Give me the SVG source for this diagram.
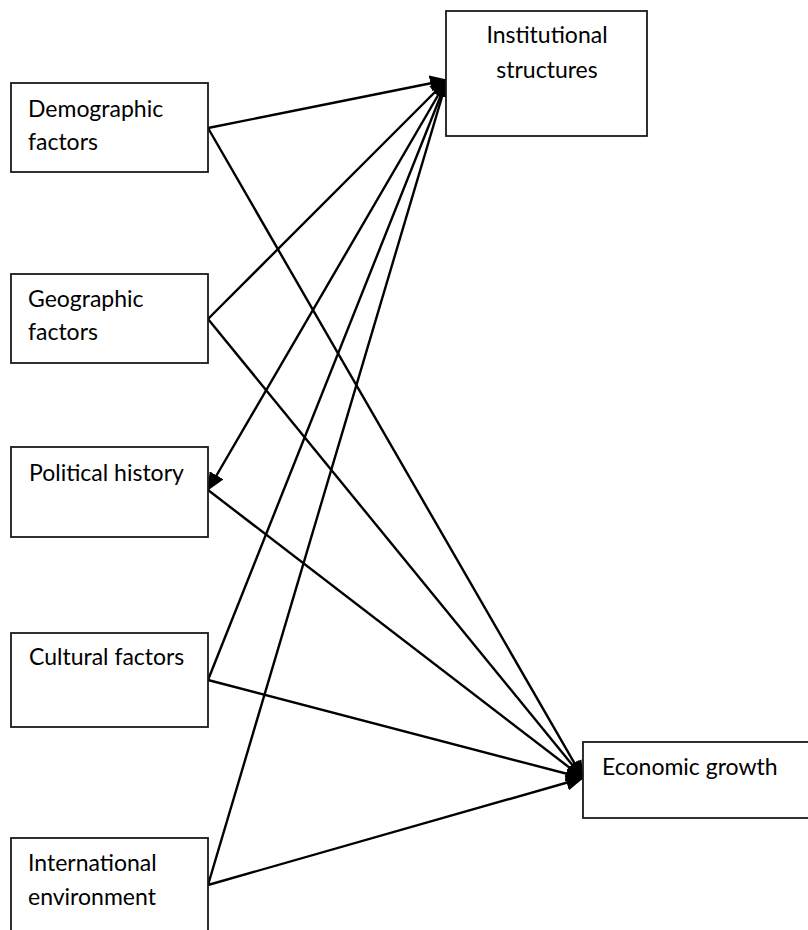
<svg xmlns="http://www.w3.org/2000/svg" width="808" height="930" viewBox="0 0 808 930">
  <style>
    .box { fill: #ffffff; stroke: #1a1a1a; stroke-width: 1.8; }
    .lbl { font-family: Lato, "Open Sans", "Liberation Sans", sans-serif; font-size: 23px; fill: #000000; }
    .edge { stroke: #000000; stroke-width: 2.4; fill: none; }
  </style>
  <defs>
    <marker id="arrow" markerUnits="userSpaceOnUse" markerWidth="18" markerHeight="16" refX="17" refY="8" orient="auto">
      <path d="M0,0 L18,8 L0,16 Z" fill="#000000"/>
    </marker>
  </defs>
  <rect width="808" height="930" fill="#ffffff"/>

  <g id="connectors">
    <line class="edge" x1="208" y1="128" x2="447" y2="80" marker-end="url(#arrow)"/>
    <line class="edge" x1="208" y1="128" x2="583" y2="778" marker-end="url(#arrow)"/>
    <line class="edge" x1="208" y1="319" x2="447" y2="80" marker-end="url(#arrow)"/>
    <line class="edge" x1="208" y1="319" x2="583" y2="778" marker-end="url(#arrow)"/>
    <line class="edge" x1="447" y1="80" x2="208" y2="490" marker-end="url(#arrow)"/>
    <line class="edge" x1="208" y1="490" x2="583" y2="778" marker-end="url(#arrow)"/>
    <line class="edge" x1="208" y1="680" x2="447" y2="80" marker-end="url(#arrow)"/>
    <line class="edge" x1="208" y1="680" x2="583" y2="778" marker-end="url(#arrow)"/>
    <line class="edge" x1="208" y1="885" x2="447" y2="80" marker-end="url(#arrow)"/>
    <line class="edge" x1="208" y1="885" x2="583" y2="778" marker-end="url(#arrow)"/>
  </g>

  <g id="institutional">
    <rect class="box" x="446" y="11" width="201" height="125"/>
    <text class="lbl" x="547" y="43" text-anchor="middle">Institutional</text>
    <text class="lbl" x="547" y="78" text-anchor="middle">structures</text>
  </g>

  <g id="demographic">
    <rect class="box" x="11" y="83" width="197" height="89"/>
    <text class="lbl" x="28" y="117">Demographic</text>
    <text class="lbl" x="28" y="150">factors</text>
  </g>

  <g id="geographic">
    <rect class="box" x="11" y="274" width="197" height="89"/>
    <text class="lbl" x="28" y="307">Geographic</text>
    <text class="lbl" x="28" y="340">factors</text>
  </g>

  <g id="political">
    <rect class="box" x="11" y="447" width="197" height="90"/>
    <text class="lbl" x="29" y="481">Political history</text>
  </g>

  <g id="cultural">
    <rect class="box" x="11" y="633" width="197" height="94"/>
    <text class="lbl" x="29" y="665">Cultural factors</text>
  </g>

  <g id="international">
    <rect class="box" x="11" y="838" width="197" height="110"/>
    <text class="lbl" x="28" y="871">International</text>
    <text class="lbl" x="28" y="905">environment</text>
  </g>

  <g id="economic">
    <rect class="box" x="583" y="742" width="240" height="76"/>
    <text class="lbl" x="602" y="775">Economic growth</text>
  </g>
</svg>
